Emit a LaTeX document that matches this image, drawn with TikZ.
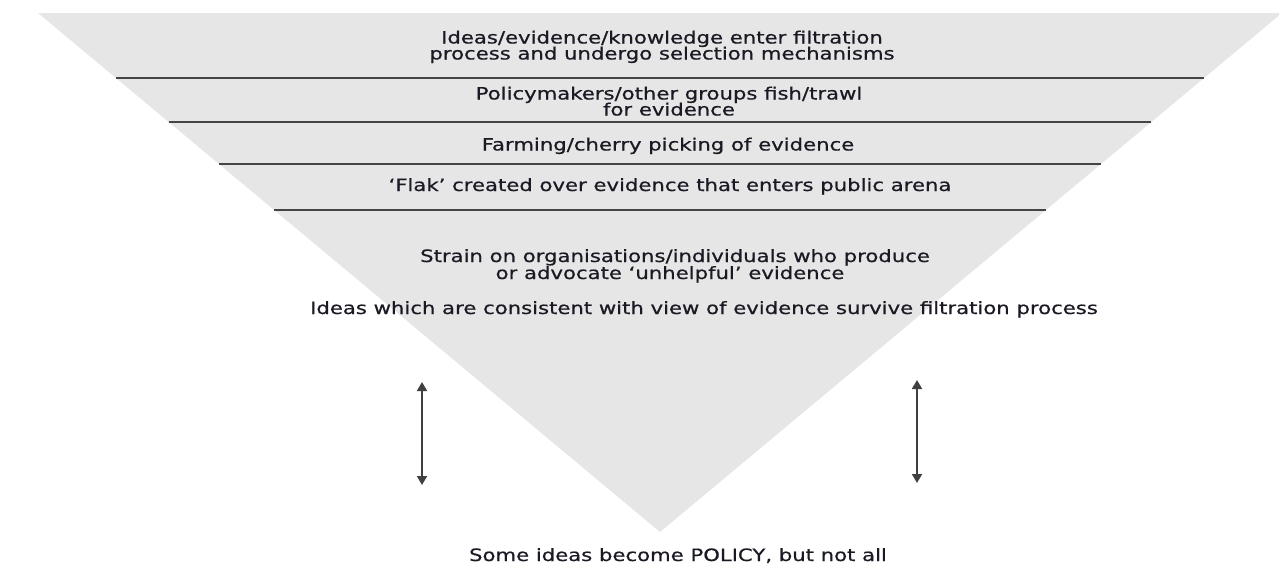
\documentclass[tikz,border=0pt]{standalone}
\usepackage{fontspec}
\setmainfont{DejaVu Sans}[FakeBold=0.6]
\usetikzlibrary{arrows.meta}
\definecolor{funnel}{HTML}{E6E6E6}
\definecolor{sepline}{HTML}{444444}
\definecolor{txt}{HTML}{1A1A24}
\definecolor{arr}{HTML}{404040}
\newcommand{\wid}[1]{\scalebox{1.246}[1]{#1}}
\tikzset{
  lbl/.style={anchor=base, inner sep=0pt, text=txt, font=\fontsize{17}{17}\selectfont},
  sepstyle/.style={draw=sepline, line width=1.3pt},
  dblarrow/.style={draw=arr, line width=1.8pt, {Triangle[width=10pt,length=9pt]}-{Triangle[width=10pt,length=9pt]}}
}
\begin{document}
\begin{tikzpicture}[x=1pt,y=-1pt]
\useasboundingbox (0,0) rectangle (1279,565);
% funnel
\fill[funnel] (38,13) -- (1282,13) -- (660,532) -- cycle;
% separators
\draw[sepstyle] (115.9,78) -- (1204.1,78);
\draw[sepstyle] (168.6,122) -- (1151.4,122);
\draw[sepstyle] (219.0,164) -- (1101.0,164);
\draw[sepstyle] (274.1,210) -- (1045.9,210);
% texts
\node[lbl] (t1a) at (662,43.5) {\wid{Ideas/evidence/knowledge enter filtration}};
\node[lbl] (t1b) at (662,59.5) {\wid{process and undergo selection mechanisms}};
\node[lbl] (t2a) at (669,99.5) {\wid{Policymakers/other groups fish/trawl}};
\node[lbl] (t2b) at (669,115.5) {\wid{for evidence}};
\node[lbl] (t3) at (668,150.5) {\wid{Farming/cherry picking of evidence}};
\node[lbl] (t4) at (670,191) {\wid{‘Flak’ created over evidence that enters public arena}};
\node[lbl] (t5a) at (675,262) {\wid{Strain on organisations/individuals who produce}};
\node[lbl] (t5b) at (670,279) {\wid{or advocate ‘unhelpful’ evidence}};
\node[lbl] (t6) at (704,314) {\wid{Ideas which are consistent with view of evidence survive filtration process}};
\node[lbl] (t7) at (678,561) {\wid{Some ideas become POLICY, but not all}};
% arrows
\coordinate (la1) at (422,382);
\coordinate (la2) at (422,485);
\coordinate (ra1) at (917,380);
\coordinate (ra2) at (917,483);
\draw[dblarrow] (la1) -- (la2);
\draw[dblarrow] (ra1) -- (ra2);
\end{tikzpicture}
\end{document}
